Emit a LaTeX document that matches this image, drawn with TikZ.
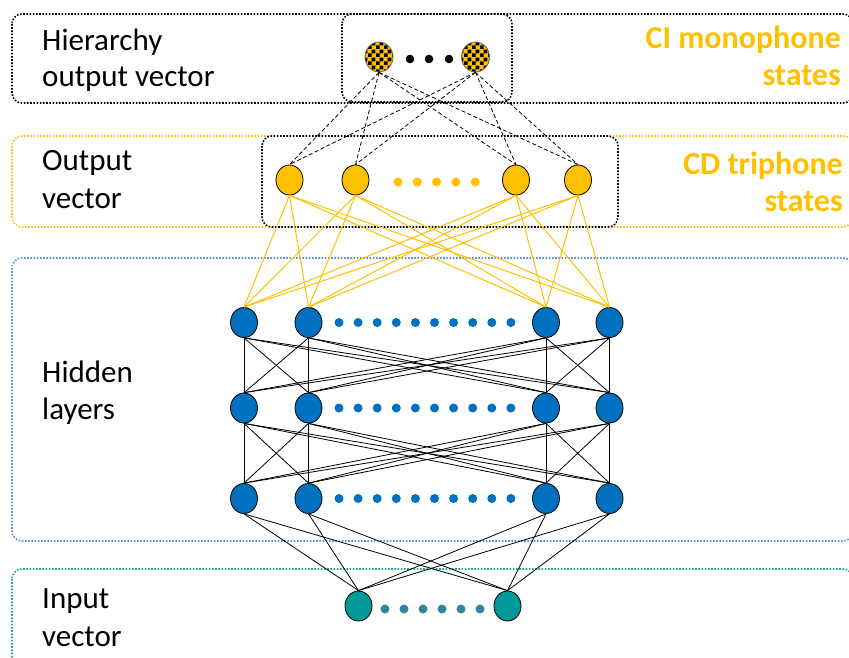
\documentclass[tikz,border=0pt]{standalone}
\usepackage{fontspec}
\setmainfont{Carlito}
\usetikzlibrary{shapes.geometric,patterns.meta}
\definecolor{cy}{HTML}{FFC000}
\definecolor{cb}{HTML}{0070C0}
\definecolor{ct}{HTML}{009999}
\definecolor{ctd}{HTML}{31859C}
\definecolor{boxblue}{HTML}{5B8ED6}
\definecolor{boxteal}{HTML}{14A39A}
\tikzdeclarepattern{name=checks, type=uncolored,
  bottom left={(0pt,0pt)}, top right={(8pt,8pt)}, tile size={(8pt,8pt)},
  code={\fill (0pt,0pt) rectangle (4pt,4pt); \fill (4pt,4pt) rectangle (8pt,8pt);}}
\begin{document}
\begin{tikzpicture}[x=1pt,y=-1pt,
  boxline/.style={line width=1.6pt, dash pattern=on 1.6pt off 1.6pt, rounded corners=10pt},
  unit/.style={ellipse, draw=black, line width=0.8pt, minimum width=27pt, minimum height=30pt, inner sep=0pt},
  chk/.style={unit, minimum width=28pt, draw=black!60, preaction={fill=cy}, pattern={checks}, pattern color=black},
  lbl/.style={font=\fontsize{31}{37}\selectfont, text=black, inner sep=0pt},
  rlbl/.style={font=\fontsize{32}{38}\selectfont\bfseries, text=cy, inner sep=0pt, anchor=base east},
  blk/.style={draw=black, line width=0.8pt},
  ylw/.style={draw=cy, line width=1pt},
  dsh/.style={draw=black, line width=0.8pt, dash pattern=on 4pt off 2.5pt}]
\useasboundingbox (0,0) rectangle (849,657);
\clip (0,0) rectangle (849,657);
% boxes
\draw[boxline, draw=black] (12,14) rectangle (853,103);
\draw[boxline, draw=black] (342,14) rectangle (512,102);
\draw[boxline, draw=cy] (12,136) rectangle (853,227);
\draw[boxline, draw=black] (262,136) rectangle (618,227);
\draw[boxline, draw=boxblue] (12,258) rectangle (853,541);
\draw[boxline, draw=boxteal] (12,569) rectangle (853,690);
% labels
\node[lbl, anchor=base west] (t1) at (42,50) {Hierarchy};
\node[lbl, anchor=base west] (t2) at (42,86) {output vector};
\node[lbl, anchor=base west] (t3) at (42,170) {Output};
\node[lbl, anchor=base west] (t4) at (42,208) {vector};
\node[lbl, anchor=base west] (t5) at (42,382) {Hidden};
\node[lbl, anchor=base west] (t6) at (42,419) {layers};
\node[lbl, anchor=base west] (t7) at (42,608) {Input};
\node[lbl, anchor=base west] (t8) at (42,646) {vector};
\node[rlbl] (r1) at (841,48) {CI monophone};
\node[rlbl] (r2) at (841,85) {states};
\node[rlbl] (r3) at (843,174) {CD triphone};
\node[rlbl] (r4) at (843,211) {states};
% hierarchy nodes
\node[chk] (h1) at (379,57) {};
\node[chk] (h2) at (475.5,57) {};
\foreach \x in {410,429,449} \fill[black] (\x,59) circle (4.3pt);
% output nodes
\node[unit, fill=cy] (o1) at (289.5,180) {};
\node[unit, fill=cy] (o2) at (355.5,180) {};
\node[unit, fill=cy] (o3) at (516,180) {};
\node[unit, fill=cy] (o4) at (578,180) {};
\foreach \x in {398,417.3,436.6,455.9,475.2} \fill[cy] (\x,182) circle (4.5pt);
% hidden layers
\foreach \r/\y in {a/322.5,b/408,c/498.5}{
  \node[unit, fill=cb] (\r1) at (244,\y) {};
  \node[unit, fill=cb] (\r2) at (308.5,\y) {};
  \node[unit, fill=cb] (\r3) at (546,\y) {};
  \node[unit, fill=cb] (\r4) at (609.5,\y) {};
  \foreach \k in {0,...,9} \fill[cb] (339+19.1*\k,\y) circle (4.5pt);
}
% input nodes
\node[unit, fill=ct] (i1) at (358.5,606) {};
\node[unit, fill=ct] (i2) at (507.5,606) {};
\foreach \k in {0,...,5} \fill[ctd] (385+19*\k,609) circle (4.5pt);
% connectors
\foreach \a in {h1,h2} \foreach \b in {o1,o2,o3,o4} \draw[dsh] (\a.south) -- (\b.north);
\foreach \a in {o1,o2,o3,o4} \foreach \b in {a1,a2,a3,a4} \draw[ylw] (\a.south) -- (\b.north);
\foreach \a in {a1,a2,a3,a4} \foreach \b in {b1,b2,b3,b4} \draw[blk] (\a.south) -- (\b.north);
\foreach \a in {b1,b2,b3,b4} \foreach \b in {c1,c2,c3,c4} \draw[blk] (\a.south) -- (\b.north);
\foreach \a in {c1,c2,c3,c4} \foreach \b in {i1,i2} \draw[blk] (\a.south) -- (\b.north);
\end{tikzpicture}
\end{document}
